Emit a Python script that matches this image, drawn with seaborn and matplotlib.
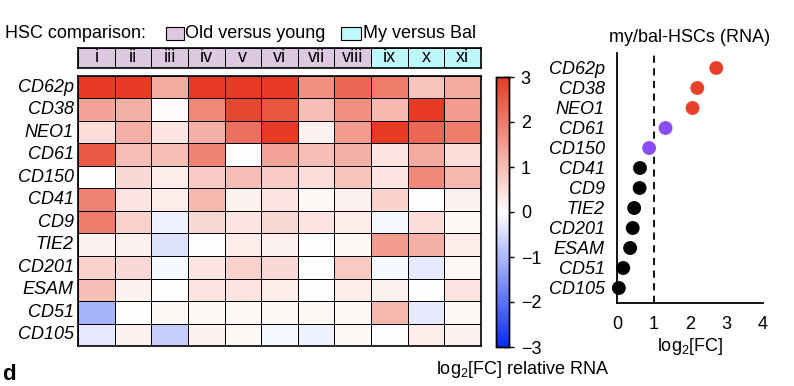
import numpy as np
import pandas as pd
import matplotlib
matplotlib.use("Agg")
import matplotlib.pyplot as plt
import seaborn as sns
from matplotlib.colors import LinearSegmentedColormap, ListedColormap
from matplotlib.patches import Rectangle

# ---------------- data ----------------
genes = ["CD62p", "CD38", "NEO1", "CD61", "CD150", "CD41", "CD9", "TIE2",
         "CD201", "ESAM", "CD51", "CD105"]
comparisons = ["i", "ii", "iii", "iv", "v", "vi", "vii", "viii", "ix", "x", "xi"]
comparison_group = [0, 0, 0, 0, 0, 0, 0, 0, 1, 1, 1]  # 0 old vs young, 1 my vs bal

row_CD62p = [3.0, 3.0, 1.3, 3.0, 3.0, 3.0, 1.7, 2.3, 2.0, 0.9, 1.3]
row_CD38 = [1.4, 1.2, 0.05, 1.8, 2.8, 2.6, 1.0, 1.7, 1.1, 3.0, 1.5]
row_NEO1 = [0.5, 1.2, 0.4, 1.2, 2.2, 3.0, 0.2, 1.5, 3.0, 2.3, 2.0]
row_CD61 = [2.5, 1.0, 1.0, 1.9, 0.0, 1.4, 1.0, 1.2, 0.4, 1.3, 0.5]
row_CD150 = [0.0, 0.6, 0.3, 0.8, 1.0, 0.8, 0.5, 0.9, 0.4, 1.8, 1.1]
row_CD41 = [1.9, 0.4, 0.3, 1.1, 0.2, 0.4, 0.1, 0.2, 0.7, 0.0, 0.2]
row_CD9 = [2.0, 0.7, -0.2, 0.6, 0.4, 0.6, 0.4, 0.3, -0.1, 0.5, 0.1]
row_TIE2 = [0.2, 0.2, -0.4, 0.0, 0.3, 0.2, 0.0, 0.1, 1.5, 1.2, 0.3]
row_CD201 = [0.7, 0.6, -0.1, 0.4, 0.7, 0.6, 0.0, 0.8, -0.1, -0.3, 0.1]
row_ESAM = [1.0, 0.2, 0.0, 0.4, 0.4, 0.3, 0.0, 0.3, 0.2, 0.0, 0.4]
row_CD51 = [-1.1, 0.0, 0.1, 0.1, 0.1, 0.1, 0.1, 0.1, 1.1, -0.3, 0.1]
row_CD105 = [-0.3, 0.2, -0.7, 0.2, 0.1, -0.1, -0.2, 0.1, 0.0, 0.3, 0.2]

dot_log2fc = [2.72, 2.20, 2.07, 1.33, 0.88, 0.63, 0.62, 0.47, 0.43, 0.36, 0.17, 0.05]
dot_class = ["up", "up", "up", "mid", "mid", "low", "low", "low", "low", "low", "low", "low"]

# ---------------- style ----------------
sns.set_style("white")
plt.rcParams["font.family"] = ["Liberation Sans", "DejaVu Sans"]
plt.rcParams["font.size"] = 13
plt.rcParams["text.color"] = "black"
plt.rcParams["axes.labelcolor"] = "black"
plt.rcParams["xtick.color"] = "black"
plt.rcParams["ytick.color"] = "black"
plt.rcParams["axes.unicode_minus"] = True

FS = 13
W, H = 794, 386
fig = plt.figure(figsize=(W / 100, H / 100), dpi=100)


def box(x0, y0, x1, y1):
    return [x0 / W, 1 - y1 / H, (x1 - x0) / W, (y1 - y0) / H]


mat = pd.DataFrame([row_CD62p, row_CD38, row_NEO1, row_CD61, row_CD150, row_CD41,
                    row_CD9, row_TIE2, row_CD201, row_ESAM, row_CD51, row_CD105],
                   index=genes, columns=comparisons)

cmap = LinearSegmentedColormap.from_list("bwr_custom", ["#0B2BF2", "#FFFFFF", "#E63B22"])

ax_hm = fig.add_axes(box(78, 76, 481, 346))
ax_cb = fig.add_axes(box(496, 77, 509, 347))
sns.heatmap(mat, ax=ax_hm, cmap=cmap, vmin=-3, vmax=3, linewidths=0.7,
            linecolor="black", cbar_ax=ax_cb, xticklabels=False)
ax_hm.set_yticklabels(genes, rotation=0, fontstyle="italic", fontsize=FS)
ax_hm.tick_params(axis="y", length=0, pad=3)
ax_hm.set_ylabel("")
for s in ax_hm.spines.values():
    s.set_visible(True)
    s.set_color("black")
    s.set_linewidth(1.2)

ax_cb.set_yticks([-3, -2, -1, 0, 1, 2, 3])
ax_cb.tick_params(axis="y", direction="inout", length=7, width=1, labelsize=FS, pad=5)
for s in ax_cb.spines.values():
    s.set_visible(True)
    s.set_color("black")
    s.set_linewidth(1)
fig.text(523 / W, 1 - 369 / H, r"log$_\mathregular{2}$[FC] relative RNA",
         ha="center", va="center", fontsize=FS)

# header row
ax_hd = fig.add_axes(box(78, 48, 481, 68))
hdr = pd.DataFrame([comparison_group], columns=comparisons)
sns.heatmap(hdr, ax=ax_hd, cmap=ListedColormap(["#DDC7E1", "#BDF8FA"]), vmin=0, vmax=1,
            cbar=False, linewidths=0.7, linecolor="black",
            annot=np.array([comparisons]), fmt="",
            annot_kws={"color": "black", "fontsize": FS},
            xticklabels=False, yticklabels=False)
for s in ax_hd.spines.values():
    s.set_visible(True)
    s.set_color("black")
    s.set_linewidth(1.2)

# legend
fig.text(5 / W, 1 - 33 / H, "HSC comparison:", ha="left", va="center", fontsize=FS)
fig.patches.append(Rectangle((166 / W, 1 - 40 / H), 18 / W, 13 / H, transform=fig.transFigure,
                             facecolor="#DDC7E1", edgecolor="black", linewidth=0.8))
fig.text(185 / W, 1 - 33 / H, "Old versus young", ha="left", va="center", fontsize=FS)
fig.patches.append(Rectangle((341 / W, 1 - 40 / H), 20 / W, 13 / H, transform=fig.transFigure,
                             facecolor="#BDF8FA", edgecolor="black", linewidth=0.8))
fig.text(363 / W, 1 - 33 / H, "My versus Bal", ha="left", va="center", fontsize=FS)

# dot plot
ax_dt = fig.add_axes(box(617, 53, 763, 303))
dots = pd.DataFrame({"gene": genes, "fc": dot_log2fc, "cls": dot_class})
sns.scatterplot(data=dots, x="fc", y="gene", hue="cls", ax=ax_dt, s=100, linewidth=0,
                palette={"up": "#E8412A", "mid": "#8B4DF7", "low": "black"},
                legend=False, zorder=3, clip_on=False)
ax_dt.axvline(1, color="black", linestyle=(0, (4, 3)), linewidth=1.3, zorder=1)
ax_dt.set_xlim(0, 4)
ax_dt.set_ylim(len(genes) - 0.25, -0.75)
ax_dt.set_xticks([0, 1, 2, 3, 4])
ax_dt.set_yticks(range(len(genes)))
ax_dt.set_yticklabels(genes, fontstyle="italic", fontsize=FS)
ax_dt.tick_params(axis="both", direction="out", length=6, width=1.2, colors="black",
                  labelsize=FS)
ax_dt.tick_params(axis="y", pad=3)
sns.despine(ax=ax_dt)
for s in ["left", "bottom"]:
    ax_dt.spines[s].set_color("black")
    ax_dt.spines[s].set_linewidth(1.3)
ax_dt.set_ylabel("")
ax_dt.set_xlabel(r"log$_\mathregular{2}$[FC]", fontsize=FS, labelpad=2)
fig.text(690 / W, 1 - 38 / H, "my/bal-HSCs (RNA)", ha="center", va="center", fontsize=FS)

fig.text(2 / W, 1 - 385 / H, "d", ha="left", va="bottom", fontsize=16, fontweight="bold")

fig.savefig("out.png", dpi=100)
